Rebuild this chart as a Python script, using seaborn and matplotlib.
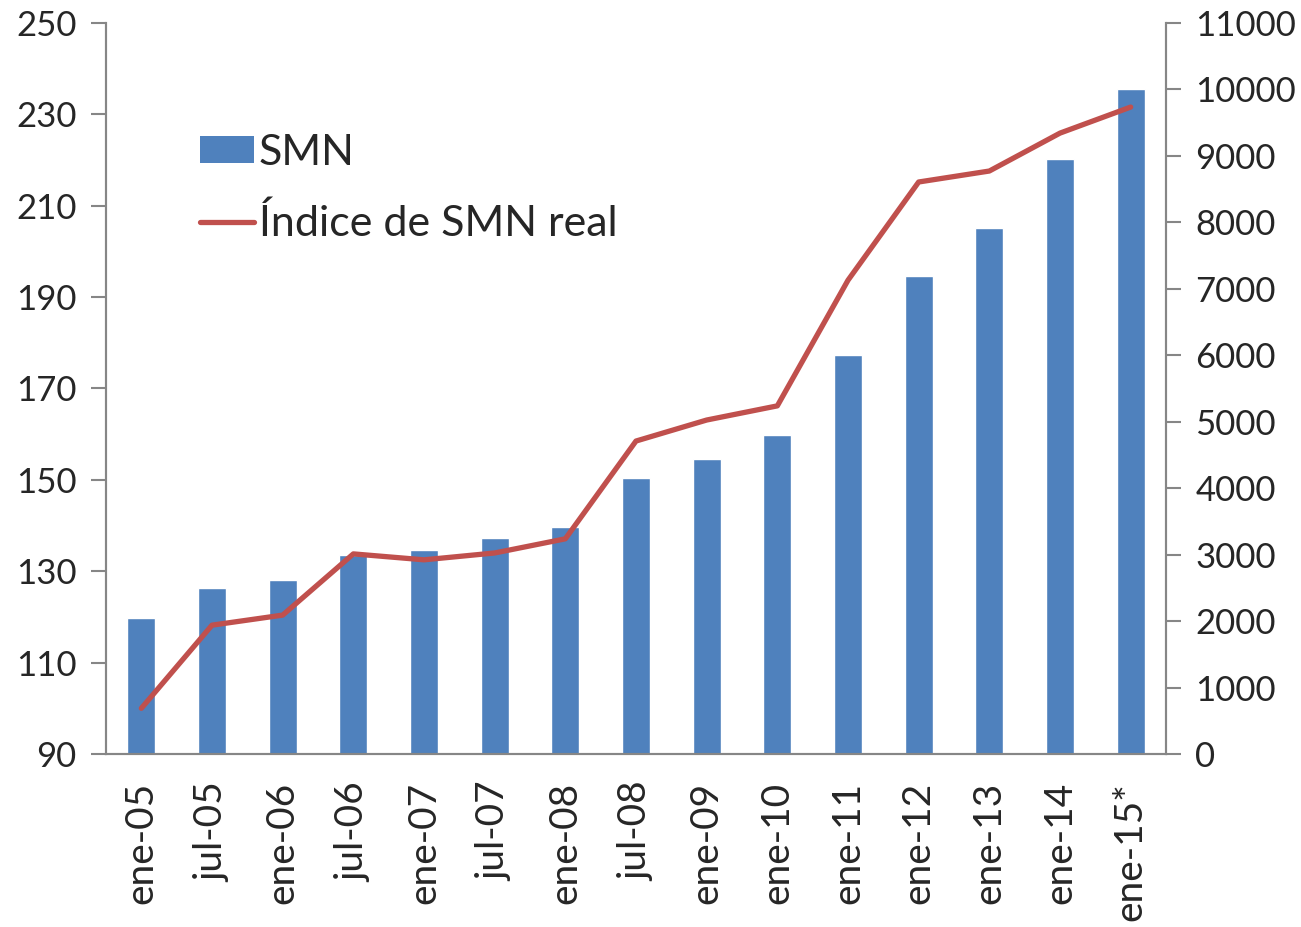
import numpy as np
import matplotlib
matplotlib.use("Agg")
import matplotlib.pyplot as plt
import seaborn as sns
from matplotlib.patches import Patch
from matplotlib.lines import Line2D

# data
periodos = ["ene-05", "jul-05", "ene-06", "jul-06", "ene-07", "jul-07", "ene-08", "jul-08",
            "ene-09", "ene-10", "ene-11", "ene-12", "ene-13", "ene-14", "ene-15*"]
smn = [2050, 2500, 2617, 3000, 3075, 3244, 3416, 4150,
       4441, 4799, 6000, 7200, 7920, 8960, 10000]
indice_real = [100.0, 118.2, 120.4, 133.8, 132.5, 134.0, 137.1, 158.5,
               163.1, 166.2, 193.7, 215.2, 217.6, 225.9, 231.6]

azul = "#4F81BD"
rojo = "#C0504D"
gris = "#868686"

sns.set_style("white")
plt.rcParams["font.family"] = ["Lato", "DejaVu Sans"]

fig = plt.figure(figsize=(13.01, 9.27), dpi=100)
ax = fig.add_axes([106 / 1301, 1 - 754 / 927, (1166 - 106) / 1301, (754 - 23) / 927])
ax2 = ax.twinx()

# bars on right axis, line on left axis (drawn on top)
sns.barplot(x=periodos, y=smn, ax=ax2, color=azul, width=0.4, saturation=1)
ax.set_zorder(ax2.get_zorder() + 1)
ax.patch.set_visible(False)
sns.lineplot(x=np.arange(len(periodos)), y=indice_real, ax=ax, color=rojo,
             linewidth=3.8, sort=False, solid_capstyle="round", solid_joinstyle="round")

ax.set_xlim(-0.5, len(periodos) - 0.5)
ax.set_ylim(90, 250)
ax.set_yticks(np.arange(90, 251, 20))
ax2.set_ylim(0, 11000)
ax2.set_yticks(np.arange(0, 11001, 1000))

ax.set_xticks(np.arange(len(periodos)))
ax.set_xticklabels(periodos, rotation=90, fontsize=28)
ax.set_xticks(np.arange(-0.5, len(periodos)), minor=True)
ax.tick_params(axis="x", which="major", length=0, pad=20)
ax.tick_params(axis="x", which="minor", length=16, width=1.5, color=gris, direction="out")
ax2.tick_params(axis="x", which="both", length=0)
ax.tick_params(axis="y", labelsize=25, length=11, width=1.5, color=gris, direction="out", pad=10)
ax2.tick_params(axis="y", labelsize=25, length=11, width=1.5, color=gris, direction="out", pad=10)
ax.set_xlabel("")
ax.set_ylabel("")
ax2.set_xlabel("")
ax2.set_ylabel("")

for a in (ax, ax2):
    for s in a.spines.values():
        s.set_color(gris)
        s.set_linewidth(1.5)
    a.spines["top"].set_visible(False)
    a.grid(False)

handles = [Patch(facecolor=azul, edgecolor="none"),
           Line2D([0], [0], color=rojo, linewidth=3.8, solid_capstyle="round")]
ax.legend(handles, ["SMN", "Índice de SMN real"], loc="upper left",
          bbox_to_anchor=(200 / 1301, 1 - 134 / 927), bbox_transform=fig.transFigure,
          frameon=False, fontsize=31, handlelength=1.25, handleheight=0.6,
          handletextpad=0.12, labelspacing=0.74, borderaxespad=0, borderpad=0)

fig.savefig("out.png", dpi=100)
